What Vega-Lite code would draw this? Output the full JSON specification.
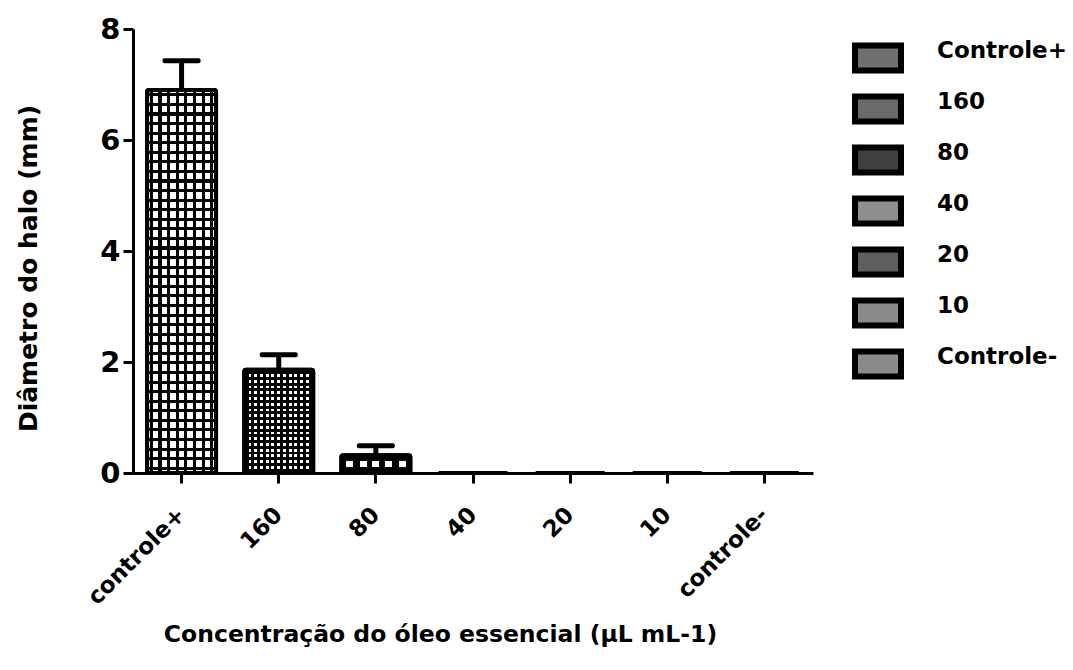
{
  "$schema": "https://vega.github.io/schema/vega-lite/v6.json",
  "autosize": {"type": "none"},
  "padding": {"left": 133, "top": 29, "right": 260, "bottom": 197},
  "width": 680,
  "height": 444,
  "background": "white",
  "config": {
    "view": {"stroke": null},
    "font": "DejaVu Sans",
    "axis": {"labelColor": "black", "titleColor": "black", "domainColor": "black", "tickColor": "black", "labelFont": "DejaVu Sans", "titleFont": "DejaVu Sans", "labelFontWeight": "bold", "titleFontWeight": "bold", "grid": false}
  },
  "data": {
    "values": [
      {"grupo": "controle+", "legenda": "Controle+", "media": 6.9, "sup": 7.43},
      {"grupo": "160", "legenda": "160", "media": 1.86, "sup": 2.13},
      {"grupo": "80", "legenda": "80", "media": 0.32, "sup": 0.49},
      {"grupo": "40", "legenda": "40", "media": 0, "sup": null},
      {"grupo": "20", "legenda": "20", "media": 0, "sup": null},
      {"grupo": "10", "legenda": "10", "media": 0, "sup": null},
      {"grupo": "controle-", "legenda": "Controle-", "media": 0, "sup": null}
    ]
  },
  "encoding": {
    "x": {
      "field": "grupo", "type": "nominal",
      "sort": ["controle+", "160", "80", "40", "20", "10", "controle-"],
      "scale": {"paddingInner": 0.29, "paddingOuter": 0.145},
      "axis": {
        "title": "Concentração do óleo essencial (µL mL-1)",
        "labelAngle": -45, "labelAlign": "right", "labelBaseline": "middle",
        "labelFontSize": 23, "labelPadding": 28,
        "tickSize": 10, "tickWidth": 3, "domainWidth": 3,
        "titleFontSize": 23.5, "titleX": 307, "titleY": 161, "titleBaseline": "middle"
      }
    },
    "y": {
      "field": "media", "type": "quantitative",
      "scale": {"domain": [0, 8]},
      "axis": {
        "title": "Diâmetro do halo (mm)",
        "values": [0, 2, 4, 6, 8], "format": "d",
        "labelFontSize": 29, "labelPadding": 3,
        "tickSize": 10, "tickWidth": 3, "domainWidth": 3,
        "titleFontSize": 25, "titleX": -105, "titleY": 239, "titleBaseline": "middle"
      }
    }
  },
  "layer": [
    {
      "mark": {"type": "bar", "stroke": "black", "strokeWidth": 4, "cornerRadius": 2},
      "encoding": {
        "fill": {
          "field": "legenda", "type": "nominal",
          "sort": ["Controle+", "160", "80", "40", "20", "10", "Controle-"],
          "scale": {
            "domain": ["Controle+", "160", "80", "40", "20", "10", "Controle-"],
            "range": ["#707070", "#6a6a6a", "#404040", "#8e8e8e", "#5e5e5e", "#8a8a8a", "#8a8a8a"]
          },
          "legend": {
            "title": null,
            "orient": "none", "legendX": 719, "legendY": 3,
            "symbolType": "M-1,-0.543H1V0.543H-1Z",
            "symbolSize": 2116,
            "symbolStrokeColor": "black", "symbolStrokeWidth": 6,
            "symbolOpacity": 1,
            "labelFont": "DejaVu Sans", "labelFontWeight": "bold", "labelFontSize": 23,
            "labelColor": "black", "labelBaseline": "alphabetic", "labelOffset": 33,
            "rowPadding": 0, "labelLimit": 300,
            "encode": {
              "symbols": {
                "update": {
                  "stroke": {"value": "black"},
                  "strokeWidth": {"value": 6}
                }
              }
            }
          }
        }
      }
    },
    {
      "transform": [{"filter": "datum.grupo === 'controle+'"}],
      "mark": {"type": "bar", "strokeWidth": 0, "cornerRadius": 2, "fill": {"gradient": "linear", "x1": 0, "y1": 0, "x2": 1, "y2": 0, "stops": [
        {"offset": 0, "color": "#fff"}, {"offset": 0.04, "color": "#fff"}, {"offset": 0.04, "color": "#000"}, {"offset": 0.085, "color": "#000"}, {"offset": 0.085, "color": "#fff"},
        {"offset": 0.165, "color": "#fff"}, {"offset": 0.165, "color": "#000"}, {"offset": 0.21, "color": "#000"}, {"offset": 0.21, "color": "#fff"},
        {"offset": 0.29, "color": "#fff"}, {"offset": 0.29, "color": "#000"}, {"offset": 0.335, "color": "#000"}, {"offset": 0.335, "color": "#fff"},
        {"offset": 0.415, "color": "#fff"}, {"offset": 0.415, "color": "#000"}, {"offset": 0.46, "color": "#000"}, {"offset": 0.46, "color": "#fff"},
        {"offset": 0.54, "color": "#fff"}, {"offset": 0.54, "color": "#000"}, {"offset": 0.585, "color": "#000"}, {"offset": 0.585, "color": "#fff"},
        {"offset": 0.665, "color": "#fff"}, {"offset": 0.665, "color": "#000"}, {"offset": 0.71, "color": "#000"}, {"offset": 0.71, "color": "#fff"},
        {"offset": 0.79, "color": "#fff"}, {"offset": 0.79, "color": "#000"}, {"offset": 0.835, "color": "#000"}, {"offset": 0.835, "color": "#fff"},
        {"offset": 0.915, "color": "#fff"}, {"offset": 0.915, "color": "#000"}, {"offset": 0.96, "color": "#000"}, {"offset": 0.96, "color": "#fff"},
        {"offset": 1, "color": "#fff"}
      ]}}
    },
    {
      "transform": [{"filter": "datum.grupo === 'controle+'"}],
      "mark": {"type": "bar", "strokeWidth": 0, "cornerRadius": 2, "fill": {"gradient": "linear", "x1": 0, "y1": 0, "x2": 0, "y2": 1, "stops": [
        {"offset": 0, "color": "rgba(0,0,0,0)"},
        {"offset": 0.0085, "color": "rgba(0,0,0,0)"}, {"offset": 0.0085, "color": "#000"}, {"offset": 0.0165, "color": "#000"}, {"offset": 0.0165, "color": "rgba(0,0,0,0)"},
        {"offset": 0.0335, "color": "rgba(0,0,0,0)"}, {"offset": 0.0335, "color": "#000"}, {"offset": 0.0415, "color": "#000"}, {"offset": 0.0415, "color": "rgba(0,0,0,0)"},
        {"offset": 0.0585, "color": "rgba(0,0,0,0)"}, {"offset": 0.0585, "color": "#000"}, {"offset": 0.0665, "color": "#000"}, {"offset": 0.0665, "color": "rgba(0,0,0,0)"},
        {"offset": 0.0835, "color": "rgba(0,0,0,0)"}, {"offset": 0.0835, "color": "#000"}, {"offset": 0.0915, "color": "#000"}, {"offset": 0.0915, "color": "rgba(0,0,0,0)"},
        {"offset": 0.1085, "color": "rgba(0,0,0,0)"}, {"offset": 0.1085, "color": "#000"}, {"offset": 0.1165, "color": "#000"}, {"offset": 0.1165, "color": "rgba(0,0,0,0)"},
        {"offset": 0.1335, "color": "rgba(0,0,0,0)"}, {"offset": 0.1335, "color": "#000"}, {"offset": 0.1415, "color": "#000"}, {"offset": 0.1415, "color": "rgba(0,0,0,0)"},
        {"offset": 0.1585, "color": "rgba(0,0,0,0)"}, {"offset": 0.1585, "color": "#000"}, {"offset": 0.1665, "color": "#000"}, {"offset": 0.1665, "color": "rgba(0,0,0,0)"},
        {"offset": 0.1835, "color": "rgba(0,0,0,0)"}, {"offset": 0.1835, "color": "#000"}, {"offset": 0.1915, "color": "#000"}, {"offset": 0.1915, "color": "rgba(0,0,0,0)"},
        {"offset": 0.2085, "color": "rgba(0,0,0,0)"}, {"offset": 0.2085, "color": "#000"}, {"offset": 0.2165, "color": "#000"}, {"offset": 0.2165, "color": "rgba(0,0,0,0)"},
        {"offset": 0.2335, "color": "rgba(0,0,0,0)"}, {"offset": 0.2335, "color": "#000"}, {"offset": 0.2415, "color": "#000"}, {"offset": 0.2415, "color": "rgba(0,0,0,0)"},
        {"offset": 0.2585, "color": "rgba(0,0,0,0)"}, {"offset": 0.2585, "color": "#000"}, {"offset": 0.2665, "color": "#000"}, {"offset": 0.2665, "color": "rgba(0,0,0,0)"},
        {"offset": 0.2835, "color": "rgba(0,0,0,0)"}, {"offset": 0.2835, "color": "#000"}, {"offset": 0.2915, "color": "#000"}, {"offset": 0.2915, "color": "rgba(0,0,0,0)"},
        {"offset": 0.3085, "color": "rgba(0,0,0,0)"}, {"offset": 0.3085, "color": "#000"}, {"offset": 0.3165, "color": "#000"}, {"offset": 0.3165, "color": "rgba(0,0,0,0)"},
        {"offset": 0.3335, "color": "rgba(0,0,0,0)"}, {"offset": 0.3335, "color": "#000"}, {"offset": 0.3415, "color": "#000"}, {"offset": 0.3415, "color": "rgba(0,0,0,0)"},
        {"offset": 0.3585, "color": "rgba(0,0,0,0)"}, {"offset": 0.3585, "color": "#000"}, {"offset": 0.3665, "color": "#000"}, {"offset": 0.3665, "color": "rgba(0,0,0,0)"},
        {"offset": 0.3835, "color": "rgba(0,0,0,0)"}, {"offset": 0.3835, "color": "#000"}, {"offset": 0.3915, "color": "#000"}, {"offset": 0.3915, "color": "rgba(0,0,0,0)"},
        {"offset": 0.4085, "color": "rgba(0,0,0,0)"}, {"offset": 0.4085, "color": "#000"}, {"offset": 0.4165, "color": "#000"}, {"offset": 0.4165, "color": "rgba(0,0,0,0)"},
        {"offset": 0.4335, "color": "rgba(0,0,0,0)"}, {"offset": 0.4335, "color": "#000"}, {"offset": 0.4415, "color": "#000"}, {"offset": 0.4415, "color": "rgba(0,0,0,0)"},
        {"offset": 0.4585, "color": "rgba(0,0,0,0)"}, {"offset": 0.4585, "color": "#000"}, {"offset": 0.4665, "color": "#000"}, {"offset": 0.4665, "color": "rgba(0,0,0,0)"},
        {"offset": 0.4835, "color": "rgba(0,0,0,0)"}, {"offset": 0.4835, "color": "#000"}, {"offset": 0.4915, "color": "#000"}, {"offset": 0.4915, "color": "rgba(0,0,0,0)"},
        {"offset": 0.5085, "color": "rgba(0,0,0,0)"}, {"offset": 0.5085, "color": "#000"}, {"offset": 0.5165, "color": "#000"}, {"offset": 0.5165, "color": "rgba(0,0,0,0)"},
        {"offset": 0.5335, "color": "rgba(0,0,0,0)"}, {"offset": 0.5335, "color": "#000"}, {"offset": 0.5415, "color": "#000"}, {"offset": 0.5415, "color": "rgba(0,0,0,0)"},
        {"offset": 0.5585, "color": "rgba(0,0,0,0)"}, {"offset": 0.5585, "color": "#000"}, {"offset": 0.5665, "color": "#000"}, {"offset": 0.5665, "color": "rgba(0,0,0,0)"},
        {"offset": 0.5835, "color": "rgba(0,0,0,0)"}, {"offset": 0.5835, "color": "#000"}, {"offset": 0.5915, "color": "#000"}, {"offset": 0.5915, "color": "rgba(0,0,0,0)"},
        {"offset": 0.6085, "color": "rgba(0,0,0,0)"}, {"offset": 0.6085, "color": "#000"}, {"offset": 0.6165, "color": "#000"}, {"offset": 0.6165, "color": "rgba(0,0,0,0)"},
        {"offset": 0.6335, "color": "rgba(0,0,0,0)"}, {"offset": 0.6335, "color": "#000"}, {"offset": 0.6415, "color": "#000"}, {"offset": 0.6415, "color": "rgba(0,0,0,0)"},
        {"offset": 0.6585, "color": "rgba(0,0,0,0)"}, {"offset": 0.6585, "color": "#000"}, {"offset": 0.6665, "color": "#000"}, {"offset": 0.6665, "color": "rgba(0,0,0,0)"},
        {"offset": 0.6835, "color": "rgba(0,0,0,0)"}, {"offset": 0.6835, "color": "#000"}, {"offset": 0.6915, "color": "#000"}, {"offset": 0.6915, "color": "rgba(0,0,0,0)"},
        {"offset": 0.7085, "color": "rgba(0,0,0,0)"}, {"offset": 0.7085, "color": "#000"}, {"offset": 0.7165, "color": "#000"}, {"offset": 0.7165, "color": "rgba(0,0,0,0)"},
        {"offset": 0.7335, "color": "rgba(0,0,0,0)"}, {"offset": 0.7335, "color": "#000"}, {"offset": 0.7415, "color": "#000"}, {"offset": 0.7415, "color": "rgba(0,0,0,0)"},
        {"offset": 0.7585, "color": "rgba(0,0,0,0)"}, {"offset": 0.7585, "color": "#000"}, {"offset": 0.7665, "color": "#000"}, {"offset": 0.7665, "color": "rgba(0,0,0,0)"},
        {"offset": 0.7835, "color": "rgba(0,0,0,0)"}, {"offset": 0.7835, "color": "#000"}, {"offset": 0.7915, "color": "#000"}, {"offset": 0.7915, "color": "rgba(0,0,0,0)"},
        {"offset": 0.8085, "color": "rgba(0,0,0,0)"}, {"offset": 0.8085, "color": "#000"}, {"offset": 0.8165, "color": "#000"}, {"offset": 0.8165, "color": "rgba(0,0,0,0)"},
        {"offset": 0.8335, "color": "rgba(0,0,0,0)"}, {"offset": 0.8335, "color": "#000"}, {"offset": 0.8415, "color": "#000"}, {"offset": 0.8415, "color": "rgba(0,0,0,0)"},
        {"offset": 0.8585, "color": "rgba(0,0,0,0)"}, {"offset": 0.8585, "color": "#000"}, {"offset": 0.8665, "color": "#000"}, {"offset": 0.8665, "color": "rgba(0,0,0,0)"},
        {"offset": 0.8835, "color": "rgba(0,0,0,0)"}, {"offset": 0.8835, "color": "#000"}, {"offset": 0.8915, "color": "#000"}, {"offset": 0.8915, "color": "rgba(0,0,0,0)"},
        {"offset": 0.9085, "color": "rgba(0,0,0,0)"}, {"offset": 0.9085, "color": "#000"}, {"offset": 0.9165, "color": "#000"}, {"offset": 0.9165, "color": "rgba(0,0,0,0)"},
        {"offset": 0.9335, "color": "rgba(0,0,0,0)"}, {"offset": 0.9335, "color": "#000"}, {"offset": 0.9415, "color": "#000"}, {"offset": 0.9415, "color": "rgba(0,0,0,0)"},
        {"offset": 0.9585, "color": "rgba(0,0,0,0)"}, {"offset": 0.9585, "color": "#000"}, {"offset": 0.9665, "color": "#000"}, {"offset": 0.9665, "color": "rgba(0,0,0,0)"},
        {"offset": 0.9835, "color": "rgba(0,0,0,0)"}, {"offset": 0.9835, "color": "#000"}, {"offset": 0.9915, "color": "#000"}, {"offset": 0.9915, "color": "rgba(0,0,0,0)"},
        {"offset": 1, "color": "rgba(0,0,0,0)"}
      ]}}
    },
    {
      "transform": [{"filter": "datum.grupo === '160'"}],
      "mark": {"type": "bar", "strokeWidth": 0, "cornerRadius": 2, "fill": {"gradient": "linear", "x1": 0, "y1": 0, "x2": 1, "y2": 0, "stops": [
        {"offset": 0, "color": "#fff"},
        {"offset": 0.02, "color": "#fff"}, {"offset": 0.02, "color": "#000"}, {"offset": 0.062, "color": "#000"}, {"offset": 0.062, "color": "#fff"},
        {"offset": 0.1033, "color": "#fff"}, {"offset": 0.1033, "color": "#000"}, {"offset": 0.1453, "color": "#000"}, {"offset": 0.1453, "color": "#fff"},
        {"offset": 0.1867, "color": "#fff"}, {"offset": 0.1867, "color": "#000"}, {"offset": 0.2287, "color": "#000"}, {"offset": 0.2287, "color": "#fff"},
        {"offset": 0.27, "color": "#fff"}, {"offset": 0.27, "color": "#000"}, {"offset": 0.312, "color": "#000"}, {"offset": 0.312, "color": "#fff"},
        {"offset": 0.3533, "color": "#fff"}, {"offset": 0.3533, "color": "#000"}, {"offset": 0.3953, "color": "#000"}, {"offset": 0.3953, "color": "#fff"},
        {"offset": 0.4367, "color": "#fff"}, {"offset": 0.4367, "color": "#000"}, {"offset": 0.4787, "color": "#000"}, {"offset": 0.4787, "color": "#fff"},
        {"offset": 0.52, "color": "#fff"}, {"offset": 0.52, "color": "#000"}, {"offset": 0.562, "color": "#000"}, {"offset": 0.562, "color": "#fff"},
        {"offset": 0.6033, "color": "#fff"}, {"offset": 0.6033, "color": "#000"}, {"offset": 0.6453, "color": "#000"}, {"offset": 0.6453, "color": "#fff"},
        {"offset": 0.6867, "color": "#fff"}, {"offset": 0.6867, "color": "#000"}, {"offset": 0.7287, "color": "#000"}, {"offset": 0.7287, "color": "#fff"},
        {"offset": 0.77, "color": "#fff"}, {"offset": 0.77, "color": "#000"}, {"offset": 0.812, "color": "#000"}, {"offset": 0.812, "color": "#fff"},
        {"offset": 0.8533, "color": "#fff"}, {"offset": 0.8533, "color": "#000"}, {"offset": 0.8953, "color": "#000"}, {"offset": 0.8953, "color": "#fff"},
        {"offset": 0.9367, "color": "#fff"}, {"offset": 0.9367, "color": "#000"}, {"offset": 0.9787, "color": "#000"}, {"offset": 0.9787, "color": "#fff"},
        {"offset": 1, "color": "#fff"}
      ]}}
    },
    {
      "transform": [{"filter": "datum.grupo === '160'"}],
      "mark": {"type": "bar", "strokeWidth": 0, "cornerRadius": 2, "fill": {"gradient": "linear", "x1": 0, "y1": 0, "x2": 0, "y2": 1, "stops": [
        {"offset": 0, "color": "rgba(0,0,0,0)"},
        {"offset": 0.014, "color": "rgba(0,0,0,0)"}, {"offset": 0.014, "color": "#000"}, {"offset": 0.042, "color": "#000"}, {"offset": 0.042, "color": "rgba(0,0,0,0)"},
        {"offset": 0.0696, "color": "rgba(0,0,0,0)"}, {"offset": 0.0696, "color": "#000"}, {"offset": 0.0976, "color": "#000"}, {"offset": 0.0976, "color": "rgba(0,0,0,0)"},
        {"offset": 0.1252, "color": "rgba(0,0,0,0)"}, {"offset": 0.1252, "color": "#000"}, {"offset": 0.1532, "color": "#000"}, {"offset": 0.1532, "color": "rgba(0,0,0,0)"},
        {"offset": 0.1808, "color": "rgba(0,0,0,0)"}, {"offset": 0.1808, "color": "#000"}, {"offset": 0.2088, "color": "#000"}, {"offset": 0.2088, "color": "rgba(0,0,0,0)"},
        {"offset": 0.2364, "color": "rgba(0,0,0,0)"}, {"offset": 0.2364, "color": "#000"}, {"offset": 0.2644, "color": "#000"}, {"offset": 0.2644, "color": "rgba(0,0,0,0)"},
        {"offset": 0.292, "color": "rgba(0,0,0,0)"}, {"offset": 0.292, "color": "#000"}, {"offset": 0.32, "color": "#000"}, {"offset": 0.32, "color": "rgba(0,0,0,0)"},
        {"offset": 0.3476, "color": "rgba(0,0,0,0)"}, {"offset": 0.3476, "color": "#000"}, {"offset": 0.3756, "color": "#000"}, {"offset": 0.3756, "color": "rgba(0,0,0,0)"},
        {"offset": 0.4032, "color": "rgba(0,0,0,0)"}, {"offset": 0.4032, "color": "#000"}, {"offset": 0.4312, "color": "#000"}, {"offset": 0.4312, "color": "rgba(0,0,0,0)"},
        {"offset": 0.4588, "color": "rgba(0,0,0,0)"}, {"offset": 0.4588, "color": "#000"}, {"offset": 0.4868, "color": "#000"}, {"offset": 0.4868, "color": "rgba(0,0,0,0)"},
        {"offset": 0.5144, "color": "rgba(0,0,0,0)"}, {"offset": 0.5144, "color": "#000"}, {"offset": 0.5424, "color": "#000"}, {"offset": 0.5424, "color": "rgba(0,0,0,0)"},
        {"offset": 0.57, "color": "rgba(0,0,0,0)"}, {"offset": 0.57, "color": "#000"}, {"offset": 0.598, "color": "#000"}, {"offset": 0.598, "color": "rgba(0,0,0,0)"},
        {"offset": 0.6256, "color": "rgba(0,0,0,0)"}, {"offset": 0.6256, "color": "#000"}, {"offset": 0.6536, "color": "#000"}, {"offset": 0.6536, "color": "rgba(0,0,0,0)"},
        {"offset": 0.6812, "color": "rgba(0,0,0,0)"}, {"offset": 0.6812, "color": "#000"}, {"offset": 0.7092, "color": "#000"}, {"offset": 0.7092, "color": "rgba(0,0,0,0)"},
        {"offset": 0.7368, "color": "rgba(0,0,0,0)"}, {"offset": 0.7368, "color": "#000"}, {"offset": 0.7648, "color": "#000"}, {"offset": 0.7648, "color": "rgba(0,0,0,0)"},
        {"offset": 0.7924, "color": "rgba(0,0,0,0)"}, {"offset": 0.7924, "color": "#000"}, {"offset": 0.8204, "color": "#000"}, {"offset": 0.8204, "color": "rgba(0,0,0,0)"},
        {"offset": 0.848, "color": "rgba(0,0,0,0)"}, {"offset": 0.848, "color": "#000"}, {"offset": 0.876, "color": "#000"}, {"offset": 0.876, "color": "rgba(0,0,0,0)"},
        {"offset": 0.9036, "color": "rgba(0,0,0,0)"}, {"offset": 0.9036, "color": "#000"}, {"offset": 0.9316, "color": "#000"}, {"offset": 0.9316, "color": "rgba(0,0,0,0)"},
        {"offset": 0.9592, "color": "rgba(0,0,0,0)"}, {"offset": 0.9592, "color": "#000"}, {"offset": 0.9872, "color": "#000"}, {"offset": 0.9872, "color": "rgba(0,0,0,0)"},
        {"offset": 1, "color": "rgba(0,0,0,0)"}
      ]}}
    },
    {
      "transform": [{"filter": "datum.grupo === '80'"}],
      "mark": {"type": "bar", "strokeWidth": 0, "cornerRadius": 2, "fill": {"gradient": "linear", "x1": 0, "y1": 0, "x2": 1, "y2": 0, "stops": [
        {"offset": 0, "color": "#000"},
        {"offset": 0.07, "color": "#000"}, {"offset": 0.07, "color": "#fff"}, {"offset": 0.17, "color": "#fff"}, {"offset": 0.17, "color": "#000"},
        {"offset": 0.265, "color": "#000"}, {"offset": 0.265, "color": "#fff"}, {"offset": 0.365, "color": "#fff"}, {"offset": 0.365, "color": "#000"},
        {"offset": 0.45, "color": "#000"}, {"offset": 0.45, "color": "#fff"}, {"offset": 0.55, "color": "#fff"}, {"offset": 0.55, "color": "#000"},
        {"offset": 0.635, "color": "#000"}, {"offset": 0.635, "color": "#fff"}, {"offset": 0.735, "color": "#fff"}, {"offset": 0.735, "color": "#000"},
        {"offset": 0.83, "color": "#000"}, {"offset": 0.83, "color": "#fff"}, {"offset": 0.93, "color": "#fff"}, {"offset": 0.93, "color": "#000"},
        {"offset": 1, "color": "#000"}
      ]}}
    },
    {
      "transform": [{"filter": "datum.grupo === '80'"}],
      "mark": {"type": "bar", "strokeWidth": 0, "cornerRadius": 2, "fill": {"gradient": "linear", "x1": 0, "y1": 0, "x2": 0, "y2": 1, "stops": [
        {"offset": 0, "color": "#000"}, {"offset": 0.34, "color": "#000"}, {"offset": 0.34, "color": "rgba(0,0,0,0)"},
        {"offset": 0.68, "color": "rgba(0,0,0,0)"}, {"offset": 0.68, "color": "#000"}, {"offset": 1, "color": "#000"}
      ]}}
    },
    {
      "transform": [{"filter": "datum.media > 0"}],
      "mark": {"type": "bar", "fill": "transparent", "stroke": "black", "strokeWidth": 4, "cornerRadius": 2}
    },
    {
      "mark": {"type": "rule", "stroke": "black", "strokeWidth": 5},
      "encoding": {
        "y2": {"field": "sup"}
      }
    },
    {
      "mark": {"type": "tick", "color": "black", "size": 38, "thickness": 5, "cornerRadius": 2, "opacity": 1},
      "encoding": {
        "y": {"field": "sup", "type": "quantitative"}
      }
    }
  ]
}
